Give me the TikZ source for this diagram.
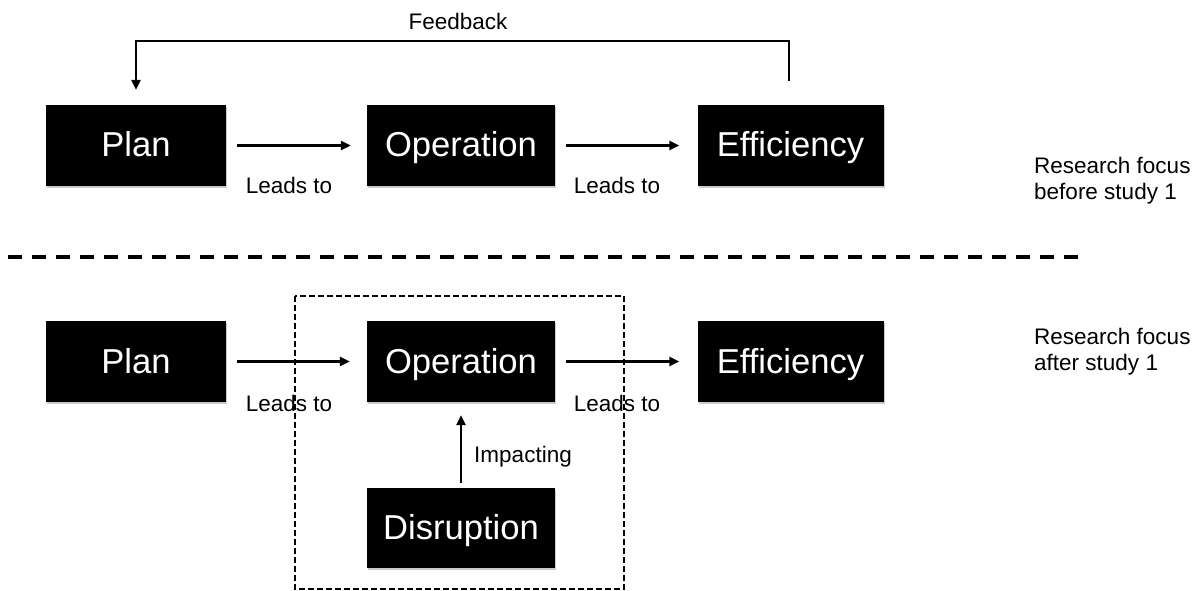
\documentclass[tikz,border=0pt]{standalone}
\usepackage{fontspec}
\setmainfont{Liberation Sans}
\usetikzlibrary{arrows.meta,shadows}
\begin{document}
\begin{tikzpicture}[x=1pt,y=-1pt,
  box/.style={fill=black,text=white,inner sep=0pt,minimum height=81pt,
    text height=25pt,text depth=2pt,
    font=\fontsize{34.6}{40}\selectfont,
    drop shadow={opacity=0.35,shadow xshift=1pt,shadow yshift=-2pt,fill=black!60}},
  lbl/.style={inner sep=0pt,font=\fontsize{22.5}{26}\selectfont},
  arr/.style={line width=2.4pt,-{Triangle[length=10pt,width=9pt]}}]
\useasboundingbox (0,0) rectangle (1204,591);
% top row
\node[box,minimum width=180pt] (plan1) at (136,145.5) {Plan};
\node[box,minimum width=188pt] (op1) at (461,145.5) {Operation};
\node[box,minimum width=186pt] (eff1) at (790.5,145.5) {Efficiency};
\draw[arr,shorten <=11pt,shorten >=16pt] (plan1.east) -- (op1.west);
\draw[arr,shorten <=11pt,shorten >=18pt] (op1.east) -- (eff1.west);
\node[lbl] (l1) at (289,185) {Leads to};
\node[lbl] (l2) at (617,185) {Leads to};
\draw[arr,shorten >=15pt] (eff1.north) ++(-1.5,-24) -- ++(0,-40) -| (plan1.north);
\node[lbl] (fb) at (458,21) {Feedback};
\node[lbl,anchor=west,align=left] (rf1) at (1034,181) {Research focus\\before study 1};
% separator
\coordinate (sepL) at (8,257);
\coordinate (sepR) at (1088,257);
\draw[line width=3.5pt,dash pattern=on 14pt off 10pt] (sepL) -- (sepR);
% bottom row
\node[box,minimum width=180pt] (plan2) at (136,361.5) {Plan};
\node[box,minimum width=188pt] (op2) at (461,361.5) {Operation};
\node[box,minimum width=186pt] (eff2) at (790.5,361.5) {Efficiency};
\node[box,minimum width=188pt,minimum height=80pt] (dis) at (461,528) {Disruption};
\draw[arr,shorten <=11pt,shorten >=17pt] (plan2.east) -- (op2.west);
\draw[arr,shorten <=11pt,shorten >=18pt] (op2.east) -- (eff2.west);
\draw[arr,shorten <=5pt,shorten >=13pt] (dis.north) -- (op2.south);
\node[lbl] (l3) at (289,403) {Leads to};
\node[lbl] (l4) at (617,403) {Leads to};
\node[lbl] (imp) at (523,457) {Impacting};
\node[lbl,anchor=west,align=left] (rf2) at (1034,352) {Research focus\\after study 1};
\coordinate (rA) at (295,296);
\coordinate (rB) at (624,589);
\draw[line width=1.2pt,dash pattern=on 6pt off 3pt] (rA) rectangle (rB);
\end{tikzpicture}
\end{document}
